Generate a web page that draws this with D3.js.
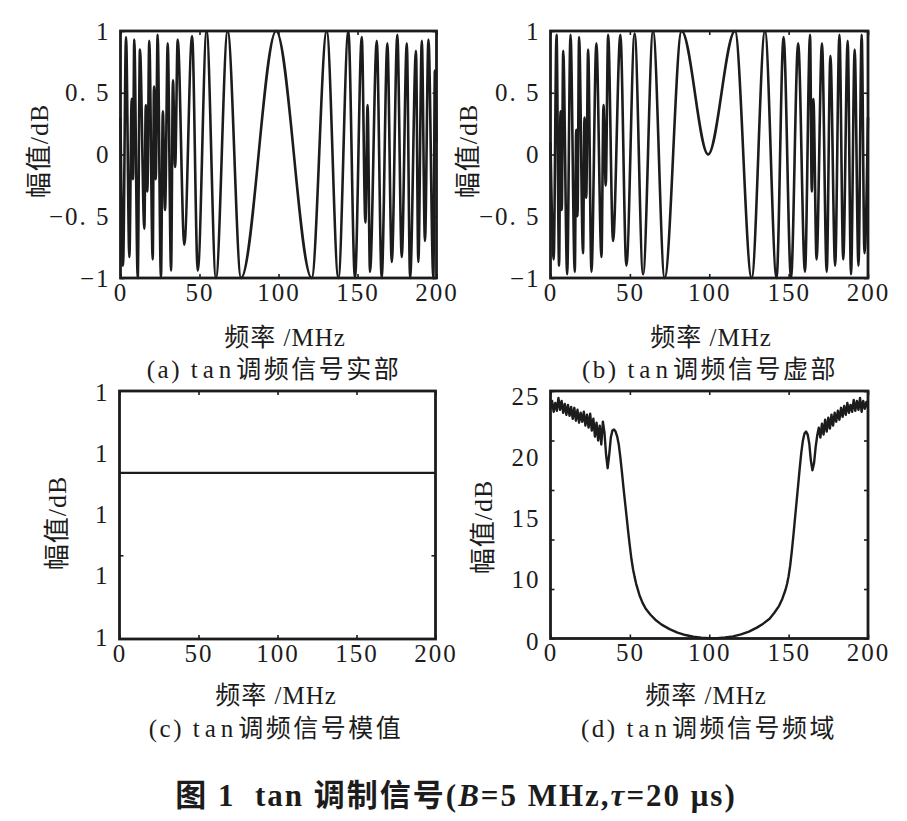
<!DOCTYPE html>
<html>
<head>
<meta charset="utf-8">
<script src="https://cdn.jsdelivr.net/npm/d3@7"></script>
<style>
  body { margin: 0; background: #fff; }
</style>
</head>
<body>
<svg id="fig" width="907" height="821"></svg>
<script>
// ---- data ----
const xTicks = [0, 50, 100, 150, 200];

// (a) real part: sampled extrema of the tan-FM signal
const realX = [0, 1.6, 3.5, 5.6, 7.1, 7.9, 8.7, 10.9, 12.3, 15.1, 16.0, 17.0, 18.2, 20.4, 21.2, 22.3, 23.5, 25.6, 26.8, 28.2,
  29.9, 32.0, 33.2, 34.6, 36.2, 40.4, 45.3, 48.9, 54.5, 60.4, 67.8, 76.3, 98.5, 121.0, 130.5, 137.9, 144.2, 148.4, 152.7, 155.0,
  156.4, 157.9, 162.2, 165.3, 168.9, 171.7, 175.2, 178.0, 181.2, 183.3, 187.0, 188.5, 190.7, 192.7, 194.9, 198.0, 199.0, 200];
const realY = [0.3, -0.9, 0.95, -0.83, 0.45, -0.2, 0.93, -1.0, 0.85, -0.6, 0.4, -0.3, 0.92, -0.85, 0.55, -0.2, 0.97, -1.0, 0.35, -0.45,
  0.9, -0.94, 0.6, -0.1, 0.93, -0.73, 0.96, -0.94, 1.0, -1.0, 1.0, -1.0, 1.0, -1.0, 1.0, -1.0, 1.0, -1.0, 0.95, -0.55,
  0.4, -0.95, 0.92, -1.0, 0.9, -0.87, 0.97, -0.83, 0.9, -1.0, 0.84, -0.87, 0.92, -0.7, 0.93, -1.0, 0.68, 0.1];

// (b) imaginary part
const imagX = [0, 2.0, 3.8, 5.4, 6.3, 7.1, 8.0, 10.5, 12.6, 15.3, 16.2, 17.0, 18.0, 20.5, 21.4, 22.5, 23.7, 25.8, 28.9, 32.1,
  33.4, 34.8, 36.3, 39.4, 44.0, 47.8, 53.0, 58.3, 64.6, 71.9, 82.6, 99.3, 116.2, 126.7, 135.1, 142.4, 146.8, 151.5, 156.0, 160.3,
  163.5, 164.6, 165.6, 167.6, 171.0, 174.0, 176.3, 179.3, 182.0, 184.4, 187.2, 189.3, 191.6, 194.0, 196.0, 197.8, 200];
const imagY = [0.1, -0.85, 0.97, -0.9, 0.35, -0.45, 0.84, -0.97, 0.97, -0.95, 0.2, -0.5, 0.95, -0.8, 0.3, -0.35, 0.85, -0.95, 0.9, -0.83,
  0.4, -0.25, 0.97, -0.7, 0.97, -0.9, 0.98, -0.97, 1.0, -1.0, 1.0, 0.0, 1.0, -1.0, 1.0, -1.0, 0.95, -1.0, 0.9, -0.95,
  0.97, -0.3, 0.45, -0.85, 0.9, -0.95, 0.8, -0.9, 0.97, -0.85, 0.92, -0.97, 0.85, -0.9, 0.97, -0.8, 0.3];

// (c) modulus: flat line; every tick prints as "1", so the axis is kept as tick index
const modX = [0, 200];
const modY = [2.68, 2.68];
const modTickLabels = ['1', '1', '1', '1', '1'];
const modTickMarks = [1.35];

// (d) spectrum, dB
const specX = [0, 1, 2, 3, 4, 5, 6, 7, 8, 9, 10, 11, 12, 13, 14, 15, 16, 17, 18, 19, 20, 21, 22, 23, 24, 25, 26, 27, 28, 29,
  30, 31, 32, 33, 34, 35, 36, 37, 38, 39, 40, 41, 42, 43, 44, 45, 46, 47, 48, 49, 50, 51, 52, 53, 54, 56, 58, 60, 63, 66,
  70, 75, 80, 85, 90, 95, 100, 105, 110, 115, 120, 125, 130, 134, 138, 141, 144, 146, 148, 149, 150, 151, 152, 153, 154, 155, 156, 157, 158, 159,
  160, 161, 162, 163, 164, 165, 166, 167, 168, 169, 170, 171, 172, 173, 174, 175, 176, 177, 178, 179, 180, 181, 182, 183, 184, 185, 186, 187, 188, 189,
  190, 191, 192, 193, 194, 195, 196, 197, 198, 199, 200];
const specY = [23.2, 24.0, 22.9, 23.8, 23.0, 24.3, 23.1, 24.0, 22.8, 23.7, 22.6, 23.6, 22.5, 23.4, 22.2, 23.3, 22.0, 23.1, 21.8, 22.8,
  21.9, 22.9, 21.5, 22.6, 21.3, 22.7, 21.0, 22.2, 20.4, 21.8, 20.0, 21.5, 19.6, 21.9, 20.8, 18.6, 17.2, 18.6, 20.3, 21.0,
  21.1, 20.9, 20.4, 19.6, 18.3, 16.8, 15.2, 13.7, 12.2, 10.7, 9.3, 8.0, 7.0, 6.2, 5.5, 4.4, 3.6, 3.0, 2.4, 1.9,
  1.4, 0.95, 0.6, 0.35, 0.18, 0.07, 0.02, 0.03, 0.1, 0.22, 0.42, 0.7, 1.1, 1.5, 2.0, 2.6, 3.3, 4.0, 4.9, 5.5, 6.3, 7.4, 8.8, 10.4, 12.1, 13.8, 15.5, 17.2, 18.8, 20.0,
  20.7, 20.9, 20.6, 19.7, 18.0, 17.0, 17.7, 19.3, 20.5, 21.3, 20.3, 21.7, 20.6, 22.1, 20.9, 22.3, 21.2, 22.6, 21.5, 22.8, 21.9, 23.0, 22.1, 23.3, 22.4, 23.5, 22.6, 23.8, 22.8, 23.6,
  22.9, 24.1, 23.0, 24.0, 23.1, 24.3, 22.9, 24.0, 23.2, 23.9, 23.3];

const abTicks = [1, 0.5, 0, -0.5, -1];
const abTickLabels = ['1', '0. 5', '0', '\u22120. 5', '\u22121'];
const specTickMarks = [0, 5, 10, 15, 20, 25];
const specTickLabels = ['25', '20', '15', '10', '0'];

const captions = ['(a)', '(b)', '(c)', '(d)'];
const captionNames = ['调频信号实部', '调频信号虚部', '调频信号模值', '调频信号频域'];

// ---- drawing ----
const svg = d3.select('#fig');
const serif = '"Liberation Serif","Noto Sans CJK SC",serif';
const ink = '#1c1c1c';

const panels = [
  { left: 120.5, right: 436.5, top: 31, bottom: 278, xs: realX, ys: realY, yDomain: [-1, 1], curve: d3.curveMonotoneX, sw: 2.6,
    ylab: [39, 151], xlabX: 285, capX: 274, textY: [346, 378] },
  { left: 550.5, right: 868, top: 31, bottom: 278, xs: imagX, ys: imagY, yDomain: [-1, 1], curve: d3.curveMonotoneX, sw: 2.6,
    ylab: [468, 151], xlabX: 711, capX: 710, textY: [346, 378] },
  { left: 119.5, right: 435.5, top: 391, bottom: 639, xs: modX, ys: modY, yDomain: [0, 4], curve: d3.curveLinear, sw: 2.4,
    ylab: [57, 523], xlabX: 276, capX: 276, textY: [704, 737], labels: modTickLabels, marks: modTickMarks, labRange: [1, -2] },
  { left: 550.5, right: 868, top: 391, bottom: 638.5, xs: specX, ys: specY, yDomain: [0, 25], curve: d3.curveLinear, sw: 2.4,
    ylab: [483, 527], xlabX: 706, capX: 709, textY: [704, 737], labels: specTickLabels, marks: specTickMarks, labRange: [5, 2.5] }
];

function styleAxis(g) {
  g.attr('font-family', serif).attr('font-size', 25).attr('color', ink);
  g.select('.domain').remove();
  g.selectAll('.tick line').attr('stroke-width', 1.6);
  g.selectAll('text').attr('letter-spacing', 2);
}

panels.forEach((p, k) => {
  const g = svg.append('g');
  const x = d3.scaleLinear().domain([0, 200]).range([p.left, p.right]);
  const y = d3.scaleLinear().domain(p.yDomain).range([p.bottom, p.top]);

  const line = d3.line()
    .x((d, i) => x(p.xs[i]))
    .y(d => y(d))
    .curve(p.curve);

  g.append('path')
    .datum(p.ys)
    .attr('d', line)
    .attr('fill', 'none')
    .attr('stroke', ink)
    .attr('stroke-width', p.sw)
    .attr('stroke-linejoin', 'round');

  // x axes, ticks inside on top and bottom
  g.append('g').attr('transform', `translate(0,${p.bottom})`)
    .call(d3.axisBottom(x).tickValues(xTicks).tickSizeInner(-4).tickSizeOuter(0).tickPadding(5))
    .call(styleAxis);
  g.append('g').attr('transform', `translate(0,${p.top})`)
    .call(d3.axisTop(x).tickValues(xTicks).tickSizeInner(-4).tickSizeOuter(0).tickFormat(''))
    .call(styleAxis);

  // y axes
  if (!p.labels) {
    g.append('g').attr('transform', `translate(${p.left},0)`)
      .call(d3.axisLeft(y).tickValues(abTicks).tickFormat((d, i) => abTickLabels[i])
        .tickSizeInner(-4).tickSizeOuter(0).tickPadding(10))
      .call(styleAxis);
    g.append('g').attr('transform', `translate(${p.right},0)`)
      .call(d3.axisRight(y).tickValues(abTicks).tickFormat('').tickSizeInner(-4).tickSizeOuter(0))
      .call(styleAxis);
  } else {
    g.append('g').attr('transform', `translate(${p.left},0)`)
      .call(d3.axisLeft(y).tickValues(p.marks).tickFormat('').tickSizeInner(-4).tickSizeOuter(0))
      .call(styleAxis);
    g.append('g').attr('transform', `translate(${p.right},0)`)
      .call(d3.axisRight(y).tickValues(p.marks).tickFormat('').tickSizeInner(-4).tickSizeOuter(0))
      .call(styleAxis);
    const lab = d3.scalePoint().domain(d3.range(p.labels.length))
      .range([p.top + p.labRange[0], p.bottom + p.labRange[1]]);
    g.append('g').attr('transform', `translate(${p.left},0)`)
      .call(d3.axisLeft(lab).tickFormat(i => p.labels[i]).tickSize(0).tickPadding(10))
      .call(styleAxis);
  }

  // frame
  g.append('rect')
    .attr('x', p.left).attr('y', p.top)
    .attr('width', p.right - p.left).attr('height', p.bottom - p.top)
    .attr('fill', 'none').attr('stroke', ink).attr('stroke-width', 2.8);

  // y label
  g.append('text')
    .attr('transform', `translate(${p.ylab[0]},${p.ylab[1]}) rotate(-90)`)
    .attr('text-anchor', 'middle').attr('dominant-baseline', 'central')
    .attr('font-family', serif).attr('font-size', 26).attr('letter-spacing', 1)
    .attr('fill', ink)
    .text('幅值/dB');

  // x label
  g.append('text')
    .attr('x', p.xlabX).attr('y', p.textY[0])
    .attr('text-anchor', 'middle')
    .attr('font-family', serif).attr('font-size', 25).attr('letter-spacing', 1)
    .attr('fill', ink)
    .text('频率 /MHz');

  // caption
  const cap = g.append('text')
    .attr('x', p.capX).attr('y', p.textY[1])
    .attr('text-anchor', 'middle')
    .attr('font-family', serif).attr('font-size', 25).attr('letter-spacing', 2.5)
    .attr('fill', ink);
  cap.append('tspan').text(captions[k] + ' ');
  cap.append('tspan').attr('letter-spacing', 5).text('tan');
  cap.append('tspan').text(captionNames[k]);
});

// figure title
const title = svg.append('text')
  .attr('x', 456).attr('y', 806)
  .attr('text-anchor', 'middle')
  .style('white-space', 'pre')
  .attr('font-family', serif).attr('font-size', 31).attr('font-weight', 'bold')
  .attr('letter-spacing', 2)
  .attr('fill', ink);
title.append('tspan').text('图 1  tan 调制信号(');
title.append('tspan').attr('font-style', 'italic').text('B');
title.append('tspan').text('=5 MHz,');
title.append('tspan').attr('font-style', 'italic').text('τ');
title.append('tspan').text('=20 μs)');
</script>
</body>
</html>
